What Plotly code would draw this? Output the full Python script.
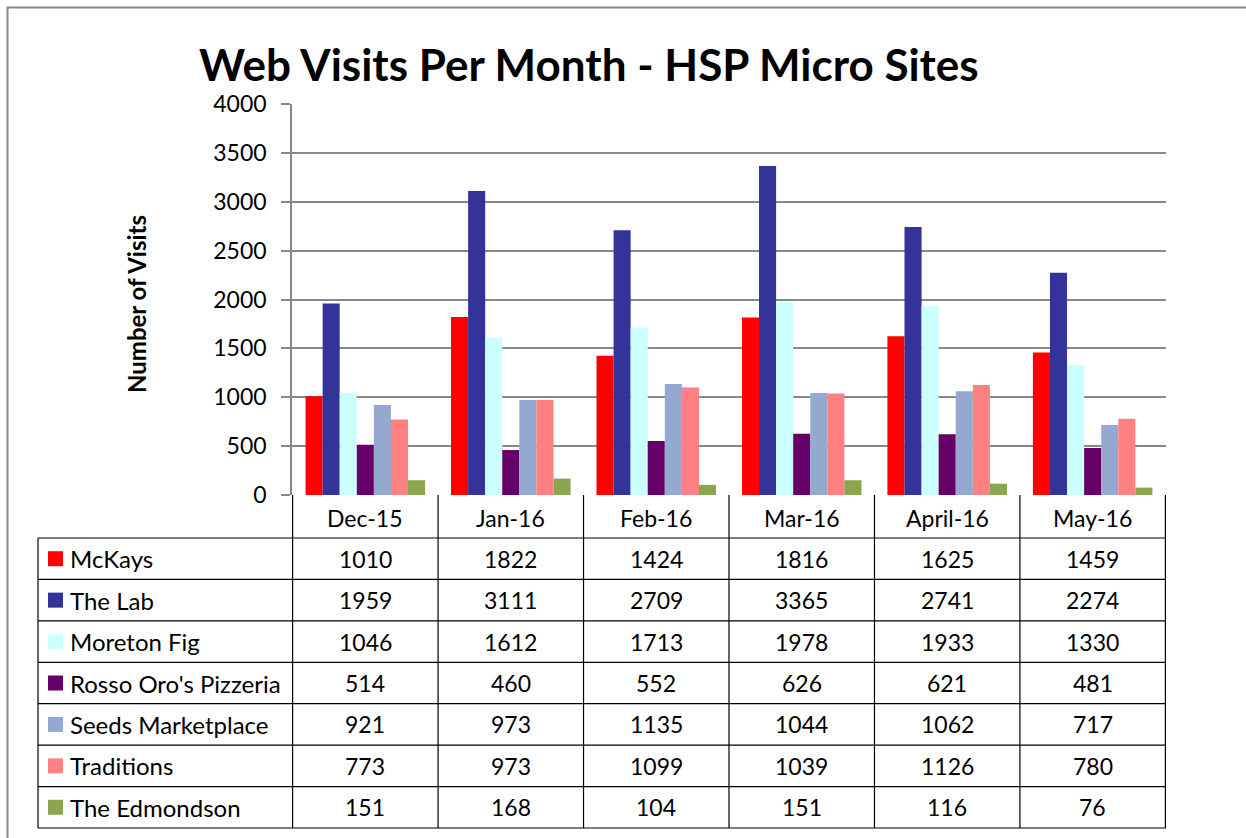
import plotly.graph_objects as go

months = ["Dec-15", "Jan-16", "Feb-16", "Mar-16", "April-16", "May-16"]
series_names = ["McKays", "The Lab", "Moreton Fig", "Rosso Oro's Pizzeria",
                "Seeds Marketplace", "Traditions", "The Edmondson"]
mckays = [1010, 1822, 1424, 1816, 1625, 1459]
the_lab = [1959, 3111, 2709, 3365, 2741, 2274]
moreton_fig = [1046, 1612, 1713, 1978, 1933, 1330]
rosso_oro = [514, 460, 552, 626, 621, 481]
seeds = [921, 973, 1135, 1044, 1062, 717]
traditions = [773, 973, 1099, 1039, 1126, 780]
edmondson = [151, 168, 104, 151, 116, 76]
series_values = [mckays, the_lab, moreton_fig, rosso_oro, seeds, traditions, edmondson]
colors = ["#FF0000", "#333399", "#CCFFFF", "#660066", "#95A9D0", "#FF8080", "#8AA64E"]
y_ticks = [0, 500, 1000, 1500, 2000, 2500, 3000, 3500, 4000]

W, H = 1246, 838
FONT = "Lato"


def px(x):
    return x / W


def py(y):
    return 1 - y / H


plot_left, plot_right = 292, 1166
plot_top, plot_bottom = 104, 495
table_left = 38
row_top = 538
row_bottom = 828
n_rows = len(series_names)
row_h = (row_bottom - row_top) / n_rows

fig = go.Figure()
for name, vals, col in zip(series_names, series_values, colors):
    fig.add_trace(go.Bar(x=months, y=vals, name=name, marker_color=col,
                         marker_line_width=0, showlegend=False))

shapes = []
annotations = []

# outer frame
shapes.append(dict(type="rect", xref="paper", yref="paper", x0=px(7.5), x1=px(1260),
                   y0=py(7.5), y1=py(860), line=dict(color="#888888", width=2),
                   layer="below"))

# table vertical lines (column boundaries on the category axis)
for i in range(len(months) + 1):
    shapes.append(dict(type="line", xref="x", yref="paper", x0=i - 0.5, x1=i - 0.5,
                       y0=py(plot_bottom), y1=py(row_bottom),
                       line=dict(color="black", width=1.2)))
shapes.append(dict(type="line", xref="paper", yref="paper", x0=px(table_left), x1=px(table_left),
                   y0=py(row_top), y1=py(row_bottom), line=dict(color="black", width=1.2)))
# table horizontal lines
for r in range(n_rows + 1):
    yy = row_top + r * row_h
    shapes.append(dict(type="line", xref="paper", yref="paper", x0=px(table_left), x1=px(plot_right),
                       y0=py(yy), y1=py(yy), line=dict(color="black", width=1.2)))

# header labels
for m in months:
    annotations.append(dict(x=m, xref="x", y=py((plot_bottom + row_top) / 2 + 1), yref="paper",
                            text=m, showarrow=False, xanchor="center", yanchor="middle",
                            font=dict(family=FONT, size=23, color="black")))

# rows
for r, (name, vals, col) in enumerate(zip(series_names, series_values, colors)):
    yc = row_top + (r + 0.5) * row_h
    shapes.append(dict(type="rect", xref="paper", yref="paper", x0=px(48), x1=px(63),
                       y0=py(yc - 7.5), y1=py(yc + 7.5), fillcolor=col, line=dict(width=0)))
    annotations.append(dict(x=px(68), xref="paper", y=py(yc), yref="paper", text=name,
                            showarrow=False, xanchor="left", yanchor="middle",
                            font=dict(family=FONT, size=24, color="black")))
    for m, v in zip(months, vals):
        annotations.append(dict(x=m, xref="x", y=py(yc), yref="paper", text=str(v),
                                showarrow=False, xanchor="center", yanchor="middle",
                                font=dict(family=FONT, size=23, color="black")))

# title
annotations.append(dict(x=px(589), xref="paper", y=py(64), yref="paper",
                        text="<b>Web Visits Per Month - HSP Micro Sites</b>", showarrow=False,
                        xanchor="center", yanchor="middle",
                        font=dict(family=FONT, size=44, color="black")))
# y-axis title
annotations.append(dict(x=px(136), xref="paper", y=py(304), yref="paper",
                        text="<b>Number of Visits</b>", showarrow=False, textangle=-90,
                        xanchor="center", yanchor="middle",
                        font=dict(family=FONT, size=24, color="black")))

fig.update_layout(
    width=W, height=H,
    margin=dict(l=0, r=0, t=0, b=0, pad=0, autoexpand=False),
    paper_bgcolor="white", plot_bgcolor="white",
    barmode="group", bargap=0.178, bargroupgap=0,
    shapes=shapes, annotations=annotations,
    xaxis=dict(domain=[px(plot_left), px(plot_right)], showticklabels=False, ticks="",
               showgrid=False, zeroline=False, showline=False, fixedrange=True,
               automargin=False),
    yaxis=dict(domain=[py(plot_bottom), py(plot_top)], range=[0, 4000], tickvals=y_ticks,
               ticks="outside", ticklen=9, tickcolor="#888888", tickwidth=1.5,
               showline=True, linecolor="#888888", linewidth=1.5,
               showgrid=True, gridcolor="#888888", gridwidth=1.5, zeroline=False,
               ticklabelstandoff=10, automargin=False,
               tickfont=dict(family=FONT, size=23, color="black"), fixedrange=True),
)

fig.write_html(
    "out.html",
    config={"displayModeBar": False},
    post_script="document.body.style.margin='0';document.body.style.overflow='hidden';",
)
